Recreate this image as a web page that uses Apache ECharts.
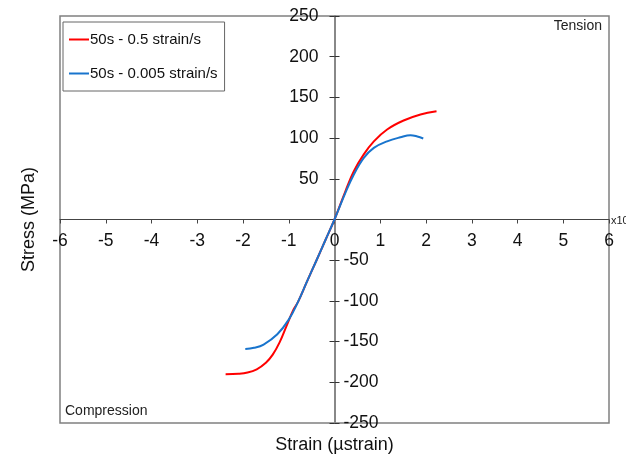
<!DOCTYPE html>
<html>
<head>
<meta charset="utf-8">
<script src="https://cdn.jsdelivr.net/npm/echarts@6/dist/echarts.min.js"></script>
<style>
html,body{margin:0;padding:0;background:#fff;}
#chart{width:626px;height:457px;}
</style>
</head>
<body>
<div id="chart"></div>
<script>
// Strain in x10^3 µstrain, stress in MPa
var seriesNames = ['50s - 0.5 strain/s', '50s - 0.005 strain/s'];
var redStrain = [-2.38, -2.1, -1.9, -1.7, -1.5, -1.35, -1.2, -1.05, -0.9, -0.8, -0.6, -0.4, -0.2, 0, 0.24, 0.42, 0.64, 0.86, 1.15, 1.51, 1.88, 2.23];
var redStress = [-190, -189.5, -188, -184, -176, -166, -151, -131, -111, -101.5, -76, -51, -25.5, 0, 35, 59, 80, 96, 110.6, 121.6, 129, 133];
var blueStrain = [-1.95, -1.76, -1.55, -1.25, -1.0, -0.8, -0.6, -0.4, -0.2, 0, 0.24, 0.42, 0.64, 0.86, 1.15, 1.44, 1.66, 1.81, 1.94];
var blueStress = [-159, -157.6, -153.6, -141, -123, -101.5, -76, -51, -25.5, 0, 33, 55, 75.7, 88, 96, 101, 103.6, 102, 99.5];
var xTicks = [-6, -5, -4, -3, -2, -1, 0, 1, 2, 3, 4, 5, 6];
var yTicks = [-250, -200, -150, -100, -50, 0, 50, 100, 150, 200, 250];

function pairs(xs, ys) { return xs.map(function (x, i) { return [x, ys[i]]; }); }

var W = 626, H = 457;
var G = {left: 60, right: 17, top: 16, bottom: 34};
var plotW = W - G.left - G.right, plotH = H - G.top - G.bottom;
// the axes cross at the data origin: shift them from the grid edges to the middle
var xMin = xTicks[0], xMax = xTicks[xTicks.length - 1];
var yMin = yTicks[0], yMax = yTicks[yTicks.length - 1];
var zeroX = (0 - xMin) / (xMax - xMin) * plotW;        // from grid left
var zeroY = (yMax - 0) / (yMax - yMin) * plotH;        // from grid top

var chart = echarts.init(document.getElementById('chart'), null, {renderer: 'canvas'});
var font = 'Liberation Sans, Arial, sans-serif';
var tickFont = 17.5;
var option = {
  animation: false,
  textStyle: {fontFamily: font},
  grid: {left: G.left, right: G.right, top: G.top, bottom: G.bottom, show: true, borderColor: '#808080', borderWidth: 1.5, containLabel: false, outerBoundsMode: 'none'},
  legend: {
    orient: 'vertical', left: 63, top: 22,
    padding: [10, 7, 10, 6], itemGap: 19,
    itemWidth: 20, itemHeight: 2, icon: 'rect',
    borderColor: '#666', borderWidth: 1, backgroundColor: '#fff',
    textStyle: {fontSize: 15, color: '#111', fontFamily: font, padding: [0, 0, 0, -4]},
    data: seriesNames
  },
  xAxis: [{
    type: 'value', position: 'bottom', min: xMin, max: xMax, interval: 1,
    offset: -(plotH - zeroY),
    axisLine: {show: true, onZero: false, lineStyle: {color: '#444', width: 1}},
    axisTick: {show: true, length: 4, lineStyle: {color: '#444'}},
    axisLabel: {fontSize: tickFont, color: '#111', margin: 13, fontFamily: font,
      formatter: function (v) { return xTicks.indexOf(v) >= 0 ? String(v) : ''; }},
    splitLine: {show: false},
    name: 'Strain (µstrain)', nameLocation: 'middle', nameGap: 217,
    nameTextStyle: {fontSize: 18, color: '#111', fontFamily: font}
  }],
  yAxis: [{
    type: 'value', position: 'left', min: yMin, max: yMax, interval: 50,
    offset: -zeroX,
    axisLine: {show: true, onZero: false, lineStyle: {color: '#888', width: 2}},
    axisTick: {show: true, length: 5, lineStyle: {color: '#333'}},
    axisLabel: {fontSize: tickFont, color: '#111', margin: 16, fontFamily: font,
      formatter: function (v) { return v > 0 ? String(v) : ''; }},
    splitLine: {show: false},
    name: 'Stress (MPa)', nameLocation: 'middle', nameGap: 296,
    nameTextStyle: {fontSize: 18, color: '#111', fontFamily: font}
  }, {
    type: 'value', position: 'right', min: yMin, max: yMax, interval: 50,
    offset: -(plotW - zeroX),
    axisLine: {show: false, onZero: false},
    axisTick: {show: true, length: 5, lineStyle: {color: '#333'}},
    axisLabel: {fontSize: tickFont, color: '#111', margin: 9, fontFamily: font,
      formatter: function (v) { return v < 0 ? String(v) : ''; }},
    splitLine: {show: false}
  }],
  graphic: [
    {type: 'text', right: 24, top: 19, style: {text: 'Tension', fontSize: 14, fill: '#222', fontFamily: font}},
    {type: 'text', left: 65, top: 404, style: {text: 'Compression', fontSize: 14, fill: '#222', fontFamily: font}},
    {type: 'text', left: 611, top: 215, style: {text: 'x10³', fontSize: 11, fill: '#222', fontFamily: font}}
  ],
  series: [{
    name: seriesNames[0], type: 'line', smooth: 0.4, showSymbol: false,
    lineStyle: {color: '#ff0000', width: 2}, itemStyle: {color: '#ff0000'},
    data: pairs(redStrain, redStress)
  }, {
    name: seriesNames[1], type: 'line', smooth: 0.4, showSymbol: false,
    lineStyle: {color: '#1874cd', width: 2}, itemStyle: {color: '#1874cd'},
    data: pairs(blueStrain, blueStress)
  }]
};
chart.setOption(option);
</script>
</body>
</html>
